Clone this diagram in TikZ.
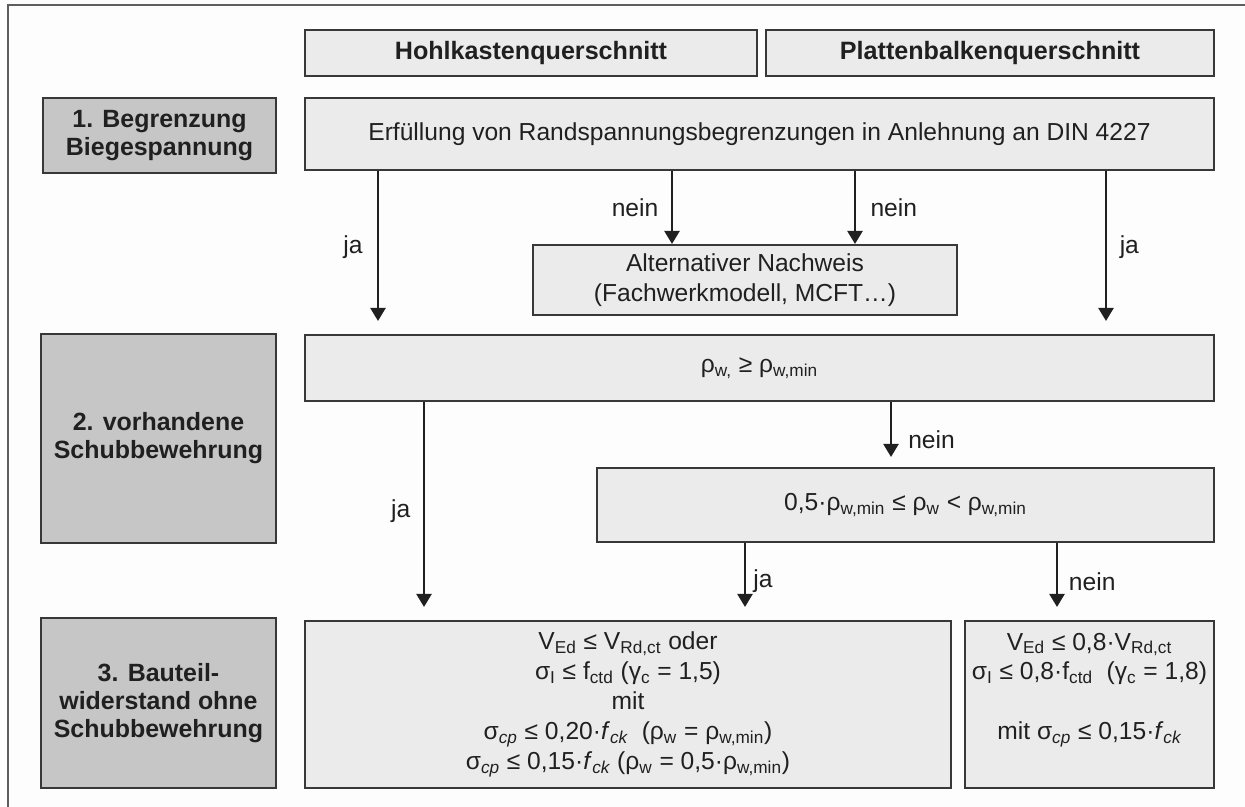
\documentclass[tikz,border=0pt]{standalone}
\usepackage{fontspec}
\setmainfont{Liberation Sans}
\usetikzlibrary{arrows.meta}

\definecolor{boxfill}{HTML}{EBEBEB}
\definecolor{labfill}{HTML}{C6C6C6}
\definecolor{edge}{HTML}{383838}
\definecolor{framecol}{HTML}{5E5E5E}
\definecolor{ink}{HTML}{202020}
\definecolor{paper}{HTML}{FDFDFD}

\newcommand{\sbs}[1]{\textsubscript{#1}}

\begin{document}
\begin{tikzpicture}[x=0.02cm, y=-0.02cm,
  every node/.style={text=ink},
  box/.style={draw=edge, line width=1.1pt, fill=boxfill, inner sep=0pt, align=center,
    font=\fontsize{14}{17}\selectfont},
  head/.style={box, font=\bfseries\fontsize{14.3}{17}\selectfont},
  stage/.style={draw=edge, line width=1.1pt, fill=labfill, inner sep=0pt, align=center,
    font=\bfseries\fontsize{14.2}{16}\selectfont},
  plain/.style={inner sep=0pt, align=center, font=\fontsize{14}{17}\selectfont},
  arr/.style={draw=ink, line width=1.65pt, -{Triangle[width=8.5pt,length=7.5pt]}},
  tag/.style={inner sep=0pt, font=\fontsize{14}{16}\selectfont},
]
% page and cropped frame
\useasboundingbox (0,0) rectangle (1245,807);
\fill[paper] (0,0) rectangle (1245,807);
\draw[framecol, line width=1.4pt] (8,807) -- (8,5) -- (1245,5);

% column headers
\node[head, minimum width=452*0.02cm, minimum height=46*0.02cm] (hk) at (531,53) {Hohlkastenquerschnitt};
\node[head, minimum width=448*0.02cm, minimum height=46*0.02cm] (pb) at (990,53) {Plattenbalkenquerschnitt};

% stage labels
\node[stage, minimum width=233*0.02cm, minimum height=75*0.02cm] (s1) at (159.5,135.5) {1. Begrenzung\\Biegespannung};
\node[stage, minimum width=235*0.02cm, minimum height=209*0.02cm] (s2) at (158.5,438.5) {2. vorhandene\\Schubbewehrung};
\node[stage, minimum width=235*0.02cm, minimum height=170*0.02cm] (s3) at (158.5,703) {3. Bauteil-\\widerstand ohne\\Schubbewehrung};

% stage 1
\node[box, minimum width=909*0.02cm, minimum height=72*0.02cm] (erf) at (759.5,134)
  {Erfüllung von Randspannungsbegrenzungen in Anlehnung an DIN 4227};
\node[box, minimum width=424*0.02cm, minimum height=70*0.02cm] (alt) at (745,280)
  {Alternativer Nachweis\\(Fachwerkmodell, MCFT…)};

% stage 2
\node[box, minimum width=909*0.02cm, minimum height=66*0.02cm] (rho) at (759.5,368)
  {ρ\sbs{w,} ≥ ρ\sbs{w,min}};
\node[box, minimum width=617*0.02cm, minimum height=74*0.02cm] (half) at (905.5,505)
  {0,5·ρ\sbs{w,min} ≤ ρ\sbs{w} < ρ\sbs{w,min}};

% stage 3
\node[box, minimum width=646*0.02cm, minimum height=167*0.02cm] (res1) at (628,704.5)
  {V\sbs{Ed} ≤ V\sbs{Rd,ct} oder\\
   σ\sbs{I} ≤ f\sbs{ctd} (γ\sbs{c} = 1,5)\\
   mit\\
   σ\sbs{\itshape cp} ≤ 0,20·\textit{f}\sbs{\itshape ck}\ \ (ρ\sbs{w} = ρ\sbs{w,min})\\
   σ\sbs{\itshape cp} ≤ 0,15·\textit{f}\sbs{\itshape ck} (ρ\sbs{w} = 0,5·ρ\sbs{w,min})};
\node[box, minimum width=249*0.02cm, minimum height=167*0.02cm] (res2) at (1089.5,704.5) {};
\node[plain] (res2txt) at (1089.5,690)
  {V\sbs{Ed} ≤ 0,8·V\sbs{Rd,ct}\\
   σ\sbs{I} ≤ 0,8·f\sbs{ctd}\ \ (γ\sbs{c} = 1,8)\\[17pt]
   mit σ\sbs{\itshape cp} ≤ 0,15·\textit{f}\sbs{\itshape ck}};

% x positions of the vertical connectors
\coordinate (xa) at (378,0);
\coordinate (xb) at (672,0);
\coordinate (xc) at (855,0);
\coordinate (xd) at (1106,0);
\coordinate (xe) at (424,0);
\coordinate (xf) at (891,0);
\coordinate (xg) at (745,0);
\coordinate (xh) at (1057,0);

% connectors
\draw[arr, shorten >=13*0.02cm] (erf.south -| xa) -- node[tag, left=8pt, yshift=3pt] {ja} (rho.north -| xa);
\draw[arr] (erf.south -| xb) -- node[tag, left=7pt] {nein} (alt.north -| xb);
\draw[arr] (erf.south -| xc) -- node[tag, right=8pt] {nein} (alt.north -| xc);
\draw[arr, shorten >=13*0.02cm] (erf.south -| xd) -- node[tag, right=7pt, yshift=3pt] {ja} (rho.north -| xd);

\draw[arr, shorten >=13*0.02cm] (rho.south -| xe) -- node[tag, left=7pt] {ja} (res1.north -| xe);
\draw[arr, shorten >=10*0.02cm] (rho.south -| xf) -- node[tag, right=9pt, yshift=-3pt] {nein} (half.north -| xf);
\draw[arr, shorten >=13*0.02cm] (half.south -| xg) -- node[tag, right=4pt] {ja} (res1.north -| xg);
\draw[arr, shorten >=13*0.02cm] (half.south -| xh) -- node[tag, right=6pt] {nein} (res2.north -| xh);
\end{tikzpicture}
\end{document}
